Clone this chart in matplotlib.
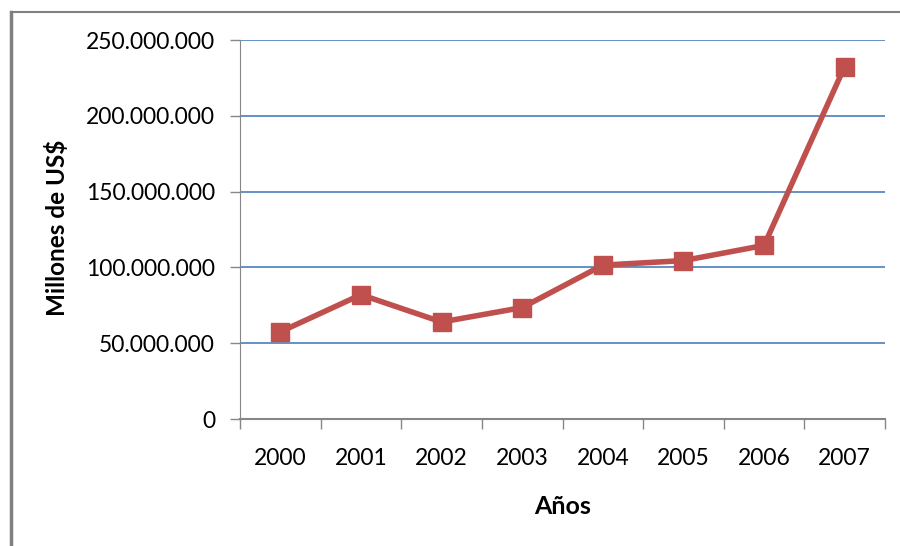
import matplotlib.pyplot as plt
from matplotlib.lines import Line2D
from matplotlib.ticker import FuncFormatter

years = ["2000", "2001", "2002", "2003", "2004", "2005", "2006", "2007"]
valores = [57500000, 82000000, 64000000, 73500000, 101500000, 104500000, 114500000, 232500000]
yticks = [0, 50000000, 100000000, 150000000, 200000000, 250000000]

plt.rcParams['font.family'] = ['Lato', 'DejaVu Sans']

fig = plt.figure(figsize=(9, 5.46), dpi=100)
ax = fig.add_axes([0.2667, 0.2326, 0.7166, 0.6941])

x = list(range(len(years)))
ax.plot(x, valores, color="#c0504d", linewidth=4, marker="s", markersize=13,
        markerfacecolor="#c0504d", markeredgecolor="#c0504d", zorder=3)

ax.set_xlim(-0.5, 7.5)
ax.set_ylim(0, 250000000)
ax.set_yticks(yticks)
ax.yaxis.set_major_formatter(FuncFormatter(lambda v, p: "{:,.0f}".format(v).replace(",", ".")))
ax.grid(axis="y", color="#4a7ebb", linewidth=1.2)
ax.set_axisbelow(True)

# category ticks between labels
ax.set_xticks([i - 0.5 for i in range(len(years) + 1)])
ax.set_xticklabels([])
ax.set_xticks(x, minor=True)
ax.set_xticklabels(years, minor=True)
ax.tick_params(axis="x", which="minor", length=0, pad=21, labelsize=16.5)
ax.tick_params(axis="x", which="major", length=7, color="#868686", width=1)
ax.tick_params(axis="y", length=7, color="#868686", width=1, labelsize=16.5, pad=11)

for s in ["top", "right"]:
    ax.spines[s].set_visible(False)
ax.spines["left"].set_color("#868686")
ax.spines["bottom"].set_color("#868686")
ax.spines["bottom"].set_linewidth(1.5)

ax.set_ylabel("Millones de US$", fontsize=17.5, fontweight="bold")
ax.set_xlabel("Años", fontsize=18, fontweight="bold")
ax.yaxis.set_label_coords(-0.265, 0.505)
ax.xaxis.set_label_coords(0.5, -0.2)

# outer frame of the chart area
fig.add_artist(Line2D([0.012, 0.012], [0, 0.978], color="#808080", linewidth=2.5))
fig.add_artist(Line2D([0.012, 1.0], [0.978, 0.978], color="#808080", linewidth=1.5))

fig.savefig("out.png", dpi=100)
